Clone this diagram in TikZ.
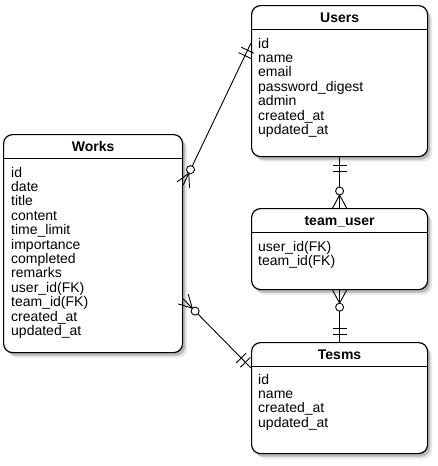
\documentclass[tikz,border=0pt]{standalone}
\usepackage{fontspec}
\setmainfont{Liberation Sans}
\usepackage{tikz}
\usetikzlibrary{calc,shadows}

\tikzset{
	entity/.style={draw, line width=1.2pt, rounded corners=9pt, fill=white, anchor=north west, inner sep=0pt,
		drop shadow={shadow xshift=4.5pt, shadow yshift=-5pt, opacity=0.2},
		drop shadow={shadow xshift=2.5pt, shadow yshift=-3pt, opacity=0.45}},
	entitytitle/.style={anchor=base, inner sep=0pt, font=\fontsize{14}{14.4}\selectfont\bfseries},
	field/.style={anchor=base west, inner sep=0pt, font=\fontsize{14}{14.4}\selectfont},
	rel/.style={line width=0.9pt}
}

\newcommand\erone[2]{%
	\draw[rel] ($(#1)!8pt!(#2)!7pt!90:(#2)$) -- ($(#1)!8pt!(#2)!7pt!-90:(#2)$)
		($(#1)!14pt!(#2)!7pt!90:(#2)$) -- ($(#1)!14pt!(#2)!7pt!-90:(#2)$);}
\newcommand\ermany[2]{%
	\draw[rel] ($(#1)!7pt!90:(#2)$) -- ($(#1)!13pt!(#2)$) -- ($(#1)!7pt!-90:(#2)$);
	\draw[rel, fill=white] ($(#1)!17pt!(#2)$) circle[radius=4pt];}

\begin{document}
\begin{tikzpicture}[x=1pt, y=-1pt]
	\useasboundingbox (0,0) rectangle (438,466);

	\node[entity, minimum width=176pt, minimum height=151pt] (users) at (251,5) {};
	\node[entity, minimum width=179pt, minimum height=218pt] (works) at (3,134) {};
	\node[entity, minimum width=176pt, minimum height=81pt] (teamuser) at (251,208) {};
	\node[entity, minimum width=176pt, minimum height=111pt] (tesms) at (251,342) {};

	\foreach \e/\t in {users/Users, works/Works, teamuser/team\_user, tesms/Tesms}{
		\node[entitytitle] (\e-title) at ($(\e.north)+(0,17)$) {\t};
		\draw[line width=1pt] ($(\e.north west)+(0,24)$) -- ($(\e.north east)+(0,24)$);
	}

	\foreach \f [count=\i from 0] in {id, name, email, password\_digest, admin, created\_at, updated\_at}
		\node[field] (users-\i) at ($(users.north west)+(7,43+14.4*\i)$) {\f};
	\foreach \f [count=\i from 0] in {id, date, title, content, time\_limit, importance, completed,
			remarks, user\_id(FK), team\_id(FK), created\_at, updated\_at}
		\node[field] (works-\i) at ($(works.north west)+(8,43+14.4*\i)$) {\f};
	\foreach \f [count=\i from 0] in {user\_id(FK), team\_id(FK)}
		\node[field] (teamuser-\i) at ($(teamuser.north west)+(7,43+14.4*\i)$) {\f};
	\foreach \f [count=\i from 0] in {id, name, created\_at, updated\_at}
		\node[field] (tesms-\i) at ($(tesms.north west)+(7,42+14.4*\i)$) {\f};

	\coordinate (wu) at ($(works.north east)+(0,51)$);
	\coordinate (uw) at ($(users.north west)+(0,38)$);
	\coordinate (wt) at ($(works.north east)+(0,165)$);
	\coordinate (tw) at ($(tesms.north west)+(0,26)$);

	\draw[rel] (wu) -- (uw);
	\ermany{wu}{uw}
	\erone{uw}{wu}

	\draw[rel] (wt) -- (tw);
	\ermany{wt}{tw}
	\erone{tw}{wt}

	\draw[rel] (users.south) -- (teamuser.north);
	\erone{users.south}{teamuser.north}
	\ermany{teamuser.north}{users.south}

	\draw[rel] (teamuser.south) -- (tesms.north);
	\ermany{teamuser.south}{tesms.north}
	\erone{tesms.north}{teamuser.south}
\end{tikzpicture}
\end{document}
